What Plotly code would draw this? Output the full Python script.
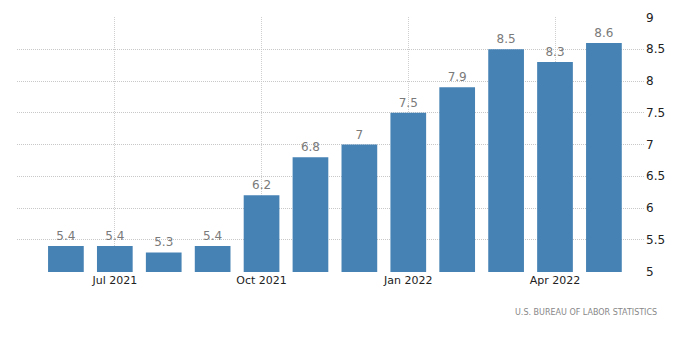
import plotly.graph_objects as go

months = ["Jun 2021", "Jul 2021", "Aug 2021", "Sep 2021", "Oct 2021", "Nov 2021",
          "Dec 2021", "Jan 2022", "Feb 2022", "Mar 2022", "Apr 2022", "May 2022"]
values = [5.4, 5.4, 5.3, 5.4, 6.2, 6.8, 7, 7.5, 7.9, 8.5, 8.3, 8.6]
tick_months = ["Jul 2021", "Oct 2021", "Jan 2022", "Apr 2022"]
y_ticks = [5, 5.5, 6, 6.5, 7, 7.5, 8, 8.5, 9]
source = "U.S. BUREAU OF LABOR STATISTICS"

fig = go.Figure()
fig.add_trace(go.Bar(
    x=months, y=values,
    marker=dict(color="#4682B4", line=dict(width=0)),
    width=0.73,
    texttemplate="%{y}", textposition="outside", cliponaxis=False,
    textfont=dict(family="DejaVu Sans", size=12, color="#7a7a7a"),
))

fig.update_layout(
    width=700, height=354,
    margin=dict(l=17, r=55, t=17, b=82),
    paper_bgcolor="white", plot_bgcolor="white",
    showlegend=False,
    font=dict(family="DejaVu Sans", size=11, color="#222"),
    xaxis=dict(
        type="category", range=[-1.0, 11.84],
        tickmode="array", tickvals=tick_months, ticktext=tick_months,
        showgrid=True, gridcolor="#cfcfcf", griddash="1px,1px", gridwidth=1,
        showline=False, zeroline=False, ticks="", ticklen=0,
        tickfont=dict(size=11, color="#222"),
    ),
    yaxis=dict(
        side="right", range=[4.992, 9.008], tickvals=y_ticks,
        showgrid=True, gridcolor="#c8c8c8", griddash="1px,1px", gridwidth=1,
        showline=False, zeroline=False, ticks="",
        tickfont=dict(size=12, color="#222"),
    ),
)
fig.add_annotation(
    text=source, xref="paper", yref="paper", x=1.022, y=-0.16,
    xanchor="right", yanchor="middle", showarrow=False,
    font=dict(family="DejaVu Sans", size=8, color="#888"),
)
fig.write_html("out.html")
